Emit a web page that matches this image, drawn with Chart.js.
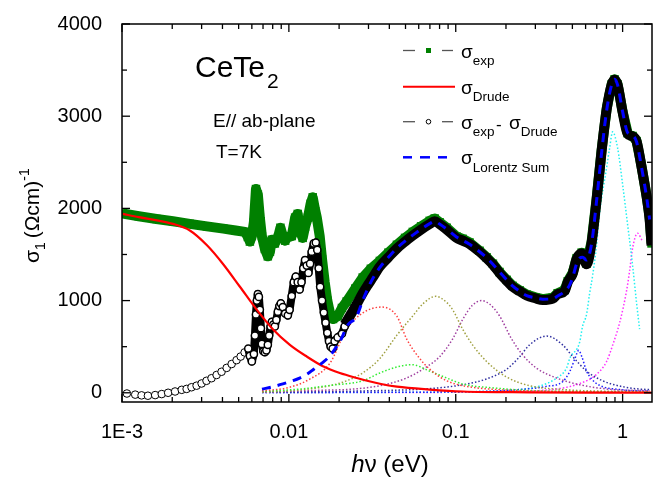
<!DOCTYPE html>
<html>
<head>
<meta charset="utf-8">
<script src="https://cdn.jsdelivr.net/npm/chart.js@4/dist/chart.umd.min.js"></script>
<style>
  html, body { margin: 0; padding: 0; background: #fff; }
</style>
</head>
<body>
<canvas id="cv" width="669" height="478"></canvas>
<script>
// ---- σ1(ω) of CeTe2, E // ab-plane, T = 7 K ----

const FONT = "'Liberation Sans', Arial, sans-serif";

// axes
const xTickValues = [0.001, 0.01, 0.1, 1];
const xTickLabels = ["1E-3", "0.01", "0.1", "1"];
const yTickValues = [0, 1000, 2000, 3000, 4000];
const yMinorTicks = [500, 1500, 2500, 3500];

// σ_exp (green squares)
const expX = [0.00101,0.00126,0.00161,0.00202,0.00255,0.00323,0.00405,0.0048,0.00546,
  0.00568,0.00584,0.006,0.00617,0.00635,0.00652,0.0067,0.00689,0.00718,0.00748,
  0.0077,0.00791,0.00824,0.00859,0.0089,0.0092,0.0095,0.00986,0.0104,0.0109,
  0.0113,0.0116,0.0121,0.0125,0.013,0.0135,0.0139,0.0143,0.0147,0.0153,
  0.0158,0.0164,0.017,0.0176,0.0184,0.0196,0.0208,0.0222,
  0.025,0.0277,0.031,0.0351,0.0395,0.0444,0.0497,0.0553,0.062,0.0698,
  0.0748,0.08,0.0883,0.101,0.11,0.121,0.139,0.153,0.167,0.183,
  0.202,0.219,0.242,0.266,0.3,0.332,0.381,0.408,0.45,0.469,
  0.502,0.53,0.568,0.608,0.652,0.698,0.748,0.802,0.859,0.895,
  0.933,1.0,1.072,1.148,1.213,1.3,1.393,1.452,1.49];
const expY = [1945,1915,1885,1860,1832,1805,1780,1760,1745,
  1690,1640,1700,1850,2210,2150,1900,1700,1560,1480,
  1530,1660,1620,1680,1790,1700,1650,1690,1700,1900,
  1940,1760,1680,1800,1900,2050,2120,2000,1900,1700,
  1450,1200,1000,870,800,830,920,990,
  1130,1250,1345,1430,1520,1605,1680,1745,1805,1865,
  1890,1850,1790,1695,1670,1630,1540,1470,1400,1310,
  1225,1160,1110,1065,1035,1015,1030,1080,1115,1210,
  1300,1460,1520,1400,1640,2100,2630,3080,3345,3400,
  3345,3050,2815,2785,2730,2450,2130,1900,1620];

// σ_exp - σ_Drude (open circles): sparse low-energy part
const diffLowX = [0.00107,0.0012,0.00131,0.00143,0.00158,0.00173,0.00189,0.00208,0.00228,0.00244,
  0.00261,0.0028,0.003,0.00321,0.00344,0.00369,0.00395,0.00424,0.00454,0.00486,0.00514,0.00543];
const diffLowY = [-8,-20,-28,-32,-25,-14,0,14,32,42,
  60,77,101,130,158,193,228,270,312,354,393,438];

// σ_exp - σ_Drude: noisy far-infrared part
const diffMidX = [0.00571,0.00584,0.006,0.00617,0.00626,0.00635,0.00643,0.00652,0.00661,0.0067,
  0.0068,0.00689,0.00703,0.00718,0.00733,0.00748,0.00762,0.00777,0.00791,0.00807,
  0.00824,0.00841,0.00859,0.00877,0.00895,0.0092,0.0095,0.00986,0.0101,0.0104,
  0.0107,0.011,0.0113,0.0116,0.0119,0.0122,0.0125,0.0128,0.0131,0.0134,
  0.0137,0.0141,0.0145,0.0148,0.0151,0.0154,0.0158,0.0162,0.0166,0.017,
  0.0174,0.0178,0.0183,0.0188,0.0196,0.0208,0.0216];
const diffMidY = [480,400,340,420,620,850,1000,1070,1040,900,
  700,530,450,440,460,520,620,720,770,740,
  720,790,880,940,970,930,860,840,900,1050,
  1200,1260,1200,1120,1200,1350,1440,1380,1300,1400,
  1530,1620,1630,1550,1350,1150,1000,870,760,650,
  560,500,480,560,600,640,720];

// σ_exp - σ_Drude: dense part (looks like a thick black line)
const diffHighX = [0.0216,0.0235,0.0255,0.0277,0.03,0.0318,0.0351,0.0395,0.0444,0.0497,
  0.0553,0.062,0.0698,0.0748,0.08,0.0883,0.101,0.11,0.121,0.139,
  0.153,0.167,0.183,0.202,0.219,0.242,0.266,0.3,0.332,0.381,
  0.408,0.45,0.469,0.502,0.53,0.568,0.608,0.652,0.698,0.748,
  0.802,0.859,0.895,0.933,1.0,1.072,1.148,1.213,1.3,1.393,
  1.452,1.49];
const diffHighY = [740,850,960,1080,1180,1250,1370,1470,1565,1640,
  1705,1770,1830,1860,1830,1770,1680,1650,1615,1530,
  1460,1390,1300,1215,1150,1100,1055,1025,1005,1020,
  1070,1105,1200,1290,1450,1510,1395,1630,2090,2620,
  3070,3340,3395,3340,3045,2810,2780,2725,2445,2125,
  1880,1600];

// σ_Drude
const drudeX = [0.00101,0.00126,0.00162,0.00202,0.00255,0.00323,0.00402,0.00509,0.00643,0.00802,
  0.01014,0.0128,0.016,0.0202,0.0255,0.0351,0.0444,0.0698,0.11,0.277,0.728,1.49];
const drudeY = [1940,1905,1870,1832,1760,1600,1400,1150,900,690,
  520,393,288,214,161,98,66,35,14,5,2,1];

// σ_Lorentz Sum
const sumX = [0.0069,0.008,0.0092,0.0105,0.0116,0.0128,0.0141,0.016,0.0176,0.0196,
  0.0208,0.0222,0.0255,0.0277,0.031,0.0351,0.0395,0.0444,0.0497,0.0553,
  0.062,0.0698,0.0748,0.08,0.0883,0.101,0.121,0.139,0.153,0.167,
  0.183,0.202,0.219,0.242,0.266,0.3,0.332,0.381,0.408,0.45,
  0.482,0.502,0.53,0.553,0.576,0.608,0.652,0.698,0.748,0.802,
  0.859,0.895,0.933,1.0,1.072,1.148,1.213,1.3,1.393,1.452];
const sumY = [40,65,96,130,160,200,256,330,400,520,
  600,720,830,1000,1200,1360,1470,1570,1645,1710,
  1775,1835,1860,1830,1775,1690,1610,1530,1465,1395,
  1310,1225,1160,1100,1055,1030,1015,1020,1050,1100,
  1170,1250,1400,1460,1470,1440,1620,2080,2600,3060,
  3340,3400,3340,3050,2820,2790,2720,2440,2120,1880];

// individual Lorentz oscillators (dotted)
const l1X = [0.0069,0.0101,0.0134,0.0176,0.0222,0.0277,0.0361,0.0444,0.0509,0.0608,0.0698,0.0883,0.11,0.176,0.437,1.264,1.45];
const l1Y = [20,60,150,320,690,866,930,830,580,372,256,130,77,35,15,5,4];
const l2X = [0.0069,0.0116,0.0176,0.0277,0.0351,0.0444,0.0545,0.0698,0.0883,0.11,0.176,0.277,1.264,1.45];
const l2Y = [15,40,80,130,215,280,305,235,160,95,50,25,8,7];
const l3X = [0.0069,0.0116,0.0176,0.0222,0.0277,0.0351,0.0444,0.0553,0.064,0.0759,0.0883,0.0959,0.11,0.126,0.153,0.202,0.277,0.437,1.264,1.45];
const l3Y = [8,30,77,130,215,372,625,834,970,1046,980,900,690,520,340,170,77,35,12,10];
const l4X = [0.0069,0.0176,0.0222,0.0351,0.0509,0.0635,0.0802,0.0959,0.11,0.126,0.143,0.16,0.183,0.216,0.252,0.305,0.402,0.553,0.871,1.264,1.45];
const l4Y = [5,30,35,77,161,256,393,585,795,950,1000,960,834,585,410,267,160,87,35,25,22];
const l5X = [0.0069,0.0277,0.0698,0.11,0.153,0.202,0.242,0.277,0.351,0.437,0.502,0.608,0.759,1.0,1.264,1.45];
const l5Y = [5,20,45,87,150,256,393,520,615,520,393,235,130,66,40,35];
const l6X = [0.0069,0.0277,0.11,0.219,0.351,0.437,0.482,0.52,0.545,0.57,0.608,0.652,0.728,0.96,1.264,1.45];
const l6Y = [3,5,10,30,70,120,230,380,460,390,235,150,80,35,20,18];
const l7X = [0.0069,0.11,0.219,0.277,0.351,0.402,0.462,0.482,0.553,0.576,0.608,0.634,0.661,0.698,0.728,0.802,0.836,0.871,0.933,1.0,1.072,1.148,1.213,1.264];
const l7Y = [2,10,30,50,100,160,270,372,550,725,850,1075,1270,1600,1950,2443,2655,2830,2655,2260,1820,1380,970,690];
const l8X = [0.0069,0.11,0.351,0.553,0.698,0.802,0.871,0.96,1.057,1.101,1.148,1.23,1.318];
const l8Y = [2,5,30,100,200,340,515,760,1110,1320,1570,1730,1640];

const pts = (xs, ys) => xs.map((x, i) => ({ x, y: ys[i] }));

const dotted = (xs, ys, color) => ({
  data: pts(xs, ys), borderColor: color, borderWidth: 1.5, borderDash: [1.5, 2],
  pointRadius: 0, cubicInterpolationMode: "monotone", clip: 0, order: 10,
});

// frame, inner ticks, legend and labels with sub/superscripts
function drawRuns(ctx, x, y, runs) {
  let cx = x;
  runs.forEach((r) => {
    if (r.x !== undefined) cx = r.x;
    ctx.font = (r.italic ? "italic " : "") + r.size + "px " + FONT;
    ctx.fillText(r.t, cx, y + (r.dy || 0));
    cx += ctx.measureText(r.t).width;
  });
}

const decor = {
  id: "decor",
  afterDraw(chart) {
    const { ctx, chartArea: a, scales: { x, y } } = chart;
    const seg = (x1, y1, x2, y2) => { ctx.beginPath(); ctx.moveTo(x1, y1); ctx.lineTo(x2, y2); ctx.stroke(); };
    ctx.save();
    ctx.strokeStyle = "#000";
    ctx.lineWidth = 1.5;
    ctx.strokeRect(a.left, a.top, a.right - a.left, a.bottom - a.top);

    ctx.lineWidth = 1.3;
    xTickValues.forEach((v) => {
      const p = x.getPixelForValue(v);
      seg(p, a.bottom, p, a.bottom - 8); seg(p, a.top, p, a.top + 8);
    });
    xTickValues.forEach((d) => {
      for (let k = 2; k <= 9; k++) {
        if (k * d > x.max) break;
        const p = x.getPixelForValue(k * d);
        seg(p, a.bottom, p, a.bottom - 5); seg(p, a.top, p, a.top + 5);
      }
    });
    yTickValues.forEach((v) => {
      const p = y.getPixelForValue(v);
      seg(a.left, p, a.left + 8, p); seg(a.right, p, a.right - 8, p);
    });
    yMinorTicks.forEach((v) => {
      const p = y.getPixelForValue(v);
      seg(a.left, p, a.left + 5, p); seg(a.right, p, a.right - 5, p);
    });

    // legend samples
    ctx.lineWidth = 1.3;
    ctx.strokeStyle = "#555";
    [50.5, 121.7].forEach((yy) => { seg(403, yy, 415, yy); seg(442, yy, 453, yy); });
    ctx.fillStyle = "#008000";
    ctx.fillRect(426, 48, 5, 5);
    ctx.strokeStyle = "#000"; ctx.lineWidth = 1;
    ctx.beginPath(); ctx.arc(428.5, 121.7, 2.3, 0, Math.PI * 2); ctx.stroke();
    ctx.strokeStyle = "#ff0000"; ctx.lineWidth = 2;
    seg(403, 86.7, 455, 86.7);
    ctx.strokeStyle = "#0000ff"; ctx.lineWidth = 2.5;
    seg(403, 157.3, 412, 157.3); seg(420, 157.3, 430, 157.3); seg(438, 157.3, 447, 157.3);

    ctx.fillStyle = "#000";
    ctx.textBaseline = "alphabetic";
    ctx.textAlign = "left";
    drawRuns(ctx, 461, 58, [{ t: "σ", size: 19 }, { t: "exp", size: 13.5, dy: 7 }]);
    drawRuns(ctx, 461, 94, [{ t: "σ", size: 19 }, { t: "Drude", size: 13.5, dy: 7 }]);
    drawRuns(ctx, 461, 129, [{ t: "σ", size: 19 }, { t: "exp", size: 13.5, dy: 7 },
      { t: "-", size: 17, x: 496, dy: 1 }, { t: "σ", size: 19, x: 509 }, { t: "Drude", size: 13.5, dy: 7 }]);
    drawRuns(ctx, 461, 164, [{ t: "σ", size: 19 }, { t: "Lorentz Sum", size: 13.5, dy: 8 }]);

    // annotations
    drawRuns(ctx, 195, 77, [{ t: "CeTe", size: 30 }, { t: "2", size: 21, x: 267, dy: 11 }]);
    drawRuns(ctx, 213, 127, [{ t: "E// ab-plane", size: 19 }]);
    drawRuns(ctx, 216, 158, [{ t: "T=7K", size: 19 }]);

    // x title
    ctx.font = "italic 24px " + FONT;
    const w1 = ctx.measureText("h").width;
    ctx.font = "24px " + FONT;
    const w2 = ctx.measureText("ν (eV)").width;
    const x0 = (a.left + a.right) / 2 + 3 - (w1 + w2) / 2;
    drawRuns(ctx, x0, 472, [{ t: "h", size: 24, italic: true }, { t: "ν (eV)", size: 24 }]);

    // y title (rotated)
    ctx.translate(39, 263);
    ctx.rotate(-Math.PI / 2);
    drawRuns(ctx, 0, 0, [{ t: "σ", size: 21 }, { t: "1", size: 14, dy: 6 }, { t: " ", size: 14 },
      { t: "(Ωcm)", size: 21 }, { t: "-1", size: 14, dy: -10 }]);
    ctx.restore();
  },
};

new Chart(document.getElementById("cv").getContext("2d"), {
  type: "line",
  plugins: [decor],
  data: {
    datasets: [
      { data: pts(sumX, sumY), borderColor: "#0000ff", borderWidth: 3, borderDash: [9, 7], pointRadius: 0, cubicInterpolationMode: "monotone", clip: 0, order: 1 },
      { data: pts(drudeX, drudeY), borderColor: "#ff0000", borderWidth: 2.2, pointRadius: 0, cubicInterpolationMode: "monotone", clip: 0, order: 2 },
      { data: pts(diffHighX, diffHighY), borderColor: "#000", borderWidth: 10, pointRadius: 0, cubicInterpolationMode: "monotone", borderJoinStyle: "round", clip: 0, order: 3 },
      { data: pts(diffMidX, diffMidY), borderColor: "#000", borderWidth: 8, borderJoinStyle: "round", pointRadius: 3.6, pointBackgroundColor: "#fff", pointBorderColor: "#000", pointBorderWidth: 1.5, clip: 0, order: 4 },
      { data: pts(diffLowX, diffLowY), showLine: false, pointRadius: 3.8, pointBackgroundColor: "#fff", pointBorderColor: "#000", pointBorderWidth: 1, clip: 0, order: 5 },
      { data: pts(expX, expY), borderColor: "#008000", borderWidth: 10, borderJoinStyle: "round", pointStyle: "rect", pointRadius: 6, pointBackgroundColor: "#008000", pointBorderWidth: 0, clip: 0, order: 6 },
      dotted(l1X, l1Y, "#ff4040"),
      dotted(l2X, l2Y, "#33ee33"),
      dotted(l3X, l3Y, "#a0a040"),
      dotted(l4X, l4Y, "#a040a0"),
      dotted(l5X, l5Y, "#3030a0"),
      dotted(l6X, l6Y, "#2020ff"),
      dotted(l7X, l7Y, "#20f0f0"),
      dotted(l8X, l8Y, "#ff30ff"),
    ],
  },
  options: {
    responsive: false, animation: false, devicePixelRatio: 1, events: [],
    layout: { padding: { top: 12, right: 17, left: 0, bottom: 0 } },
    plugins: { legend: { display: false }, tooltip: { enabled: false } },
    scales: {
      x: {
        type: "logarithmic", min: 0.001, max: 1.5, bounds: "data",
        afterBuildTicks: (ax) => { ax.ticks = xTickValues.map((v) => ({ value: v })); },
        afterFit: (ax) => { ax.height = 76; },
        grid: { display: false }, border: { display: false },
        ticks: { autoSkip: false, maxRotation: 0, padding: 10, color: "#000", font: { size: 20, family: FONT },
          callback: (v, i) => xTickLabels[i] },
      },
      y: {
        type: "linear", min: -100, max: 4000, bounds: "data",
        afterBuildTicks: (ax) => { ax.ticks = yTickValues.map((v) => ({ value: v })); },
        afterFit: (ax) => { ax.width = 122; },
        grid: { display: false }, border: { display: false },
        ticks: { padding: 12, color: "#000", font: { size: 20, family: FONT }, callback: (v) => String(v) },
      },
    },
  },
});
</script>
</body>
</html>
